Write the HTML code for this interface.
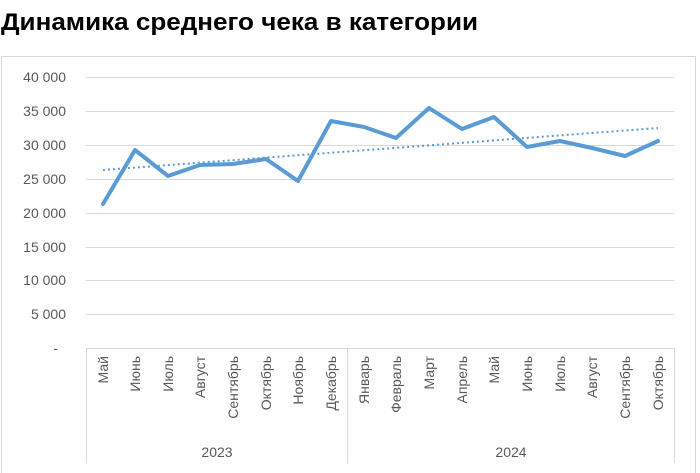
<!DOCTYPE html>
<html><head><meta charset="utf-8"><style>
body{margin:0;background:#fff;width:700px;height:473px;overflow:hidden}
svg{display:block;font-family:"Liberation Sans",sans-serif}
</style></head><body>
<svg width="700" height="473" viewBox="0 0 700 473">
<text x="1" y="30" font-size="24" font-weight="bold" fill="#000" textLength="477" lengthAdjust="spacingAndGlyphs">Динамика среднего чека в категории</text>
<rect x="1.5" y="56.5" width="694" height="420" fill="none" stroke="#d9d9d9"/>
<g stroke="#d9d9d9" stroke-width="1">
<line x1="86" x2="674" y1="77.5" y2="77.5"/>
<line x1="86" x2="674" y1="111.5" y2="111.5"/>
<line x1="86" x2="674" y1="145.5" y2="145.5"/>
<line x1="86" x2="674" y1="179.5" y2="179.5"/>
<line x1="86" x2="674" y1="213.5" y2="213.5"/>
<line x1="86" x2="674" y1="247.5" y2="247.5"/>
<line x1="86" x2="674" y1="280.5" y2="280.5"/>
<line x1="86" x2="674" y1="314.5" y2="314.5"/>
<line x1="86" x2="674" y1="348.5" y2="348.5"/>
<line x1="86.5" x2="86.5" y1="348" y2="463"/>
<line x1="347.5" x2="347.5" y1="348" y2="463"/>
<line x1="674.5" x2="674.5" y1="348" y2="463"/>
</g>
<g font-size="14" fill="#595959" text-anchor="end">
<text x="66" y="82">40 000</text><text x="66" y="116">35 000</text><text x="66" y="150">30 000</text>
<text x="66" y="184">25 000</text><text x="66" y="218">20 000</text><text x="66" y="252">15 000</text>
<text x="66" y="285">10 000</text><text x="66" y="319">5 000</text><text x="58" y="353">-</text>
</g>
<polyline fill="none" stroke="#5b9bd5" stroke-width="2" stroke-dasharray="2 3" points="103,170 658,128"/>
<polyline fill="none" stroke="#5b9bd5" stroke-width="4" stroke-linejoin="round" stroke-linecap="round"
points="103,204 135,150 168,176 200,165 233,164 266,159 298,181 331,121 364,127 396,138 429,108 462,129 494,117 527,147 560,141 592,148 625,156 658,141"/>
<g font-size="14" fill="#595959" text-anchor="end">
<text transform="translate(108,356) rotate(-90)">Май</text>
<text transform="translate(140,356) rotate(-90)">Июнь</text>
<text transform="translate(173,356) rotate(-90)">Июль</text>
<text transform="translate(205,356) rotate(-90)">Август</text>
<text transform="translate(238,356) rotate(-90)">Сентябрь</text>
<text transform="translate(271,356) rotate(-90)">Октябрь</text>
<text transform="translate(303,356) rotate(-90)">Ноябрь</text>
<text transform="translate(336,356) rotate(-90)">Декабрь</text>
<text transform="translate(369,356) rotate(-90)">Январь</text>
<text transform="translate(401,356) rotate(-90)">Февраль</text>
<text transform="translate(434,356) rotate(-90)">Март</text>
<text transform="translate(467,356) rotate(-90)">Апрель</text>
<text transform="translate(499,356) rotate(-90)">Май</text>
<text transform="translate(532,356) rotate(-90)">Июнь</text>
<text transform="translate(565,356) rotate(-90)">Июль</text>
<text transform="translate(597,356) rotate(-90)">Август</text>
<text transform="translate(630,356) rotate(-90)">Сентябрь</text>
<text transform="translate(663,356) rotate(-90)">Октябрь</text>
</g>
<g font-size="14" fill="#595959" text-anchor="middle">
<text x="217" y="457">2023</text><text x="511" y="457">2024</text>
</g>
</svg>
</body></html>
